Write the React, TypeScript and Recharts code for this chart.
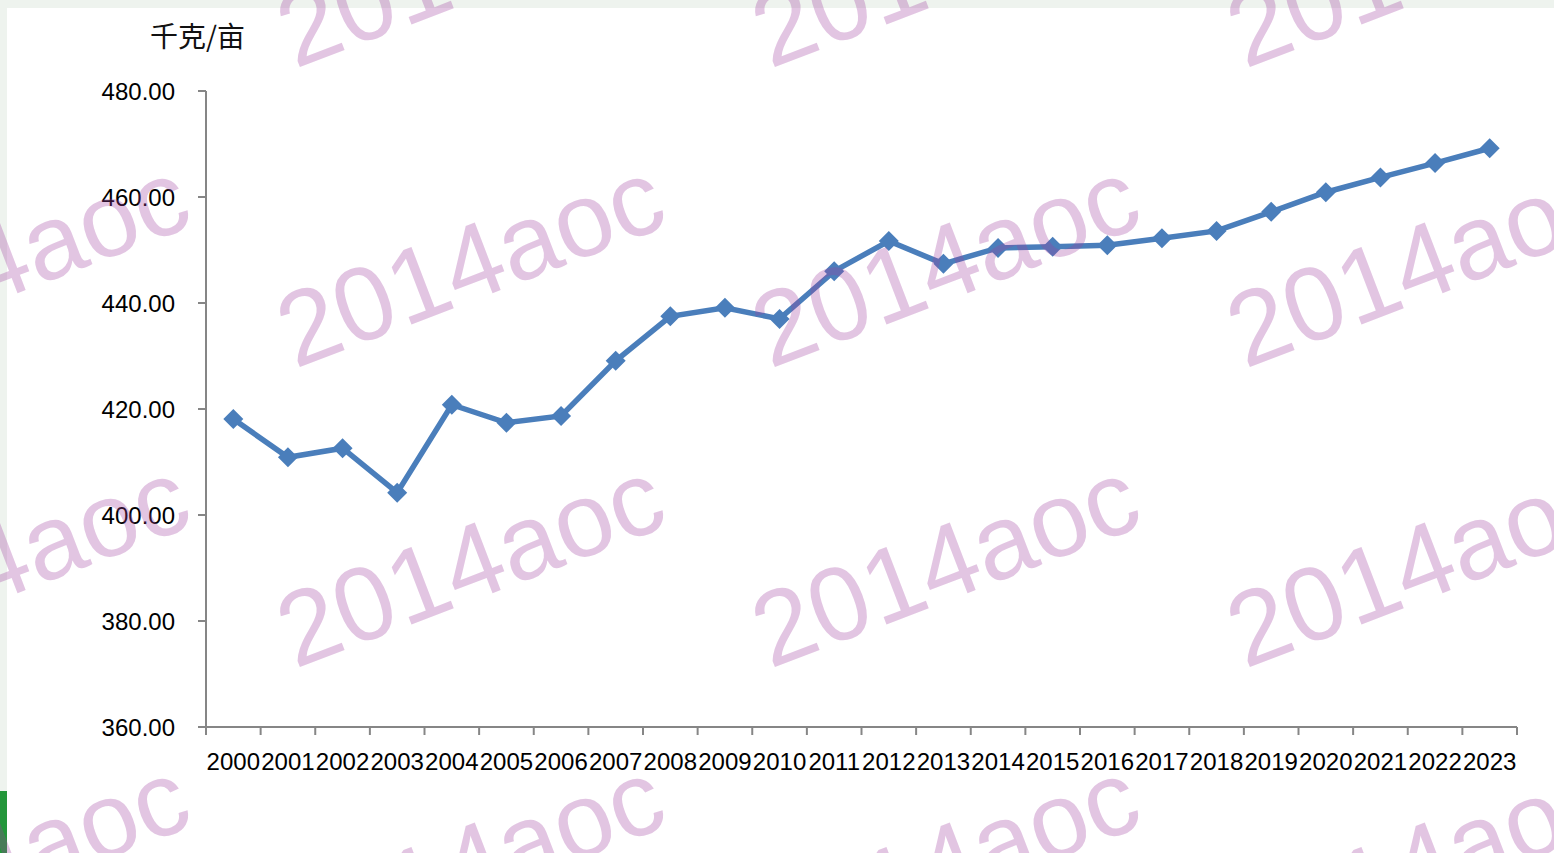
import React from 'react';
import { LineChart, Line, XAxis, YAxis } from 'recharts';

const years = [
  '2000', '2001', '2002', '2003', '2004', '2005', '2006', '2007', '2008', '2009', '2010', '2011',
  '2012', '2013', '2014', '2015', '2016', '2017', '2018', '2019', '2020', '2021', '2022', '2023',
];
const yields = [
  418.1, 410.9, 412.6, 404.2, 420.8, 417.4, 418.7, 429.1, 437.5, 439.1, 437.0, 446.0,
  451.7, 447.4, 450.4, 450.6, 450.9, 452.2, 453.6, 457.2, 460.9, 463.7, 466.4, 469.2,
];
const yTicks = [360, 380, 400, 420, 440, 460, 480];
const unitLabel = '千克/亩';
const watermarkText = '2014aoc';
const watermarkCols = [-180, 295, 770, 1245];
const watermarkRows = [69, 369, 669, 969];

const data = years.map((year, i) => ({ year, value: yields[i] }));

const LINE_COLOR = '#4a7ebb';
const AXIS_COLOR = '#868686';
const FONT = '"Liberation Sans", Arial, sans-serif';
const X_TICK_SIZE = 8;
const X_TICK_MARGIN = 18;

const Diamond = (props: any) => {
  const { cx, cy, index } = props;
  if (cx == null || cy == null) return <g key={`d-${index}`} />;
  const r = 10;
  return (
    <polygon
      key={`d-${index}`}
      points={`${cx},${cy - r} ${cx + r},${cy} ${cx},${cy + r} ${cx - r},${cy}`}
      fill={LINE_COLOR}
    />
  );
};

const XTick = (props: any) => {
  const { x, y, payload, index } = props;
  const half = payload && typeof payload.offset === 'number' ? payload.offset : 0;
  const axisY = y - X_TICK_SIZE - X_TICK_MARGIN;
  const isLast = index === years.length - 1;
  return (
    <g>
      <line x1={x - half} x2={x - half} y1={axisY} y2={axisY + X_TICK_SIZE} stroke={AXIS_COLOR} strokeWidth={2} />
      {isLast && (
        <line x1={x + half} x2={x + half} y1={axisY} y2={axisY + X_TICK_SIZE} stroke={AXIS_COLOR} strokeWidth={2} />
      )}
      <text
        x={x}
        y={y}
        dy="0.71em"
        textAnchor="middle"
        fill="#000000"
        fontSize={24}
        fontFamily={FONT}
      >
        {payload.value}
      </text>
    </g>
  );
};

export default function App() {
  return (
    <div
      style={{
        position: 'absolute',
        left: 0,
        top: 0,
        width: 1554,
        height: 853,
        background: '#eef3ee',
        overflow: 'hidden',
      }}
    >
      <div style={{ position: 'absolute', left: 7, top: 8, right: 0, bottom: 0, background: '#ffffff' }} />
      <div style={{ position: 'absolute', left: 0, top: 791, width: 7, height: 62, background: '#23963a' }} />
      <div style={{ position: 'absolute', left: 0, top: 0 }}>
        <LineChart width={1554} height={853} data={data} margin={{ top: 91, right: 37, bottom: 96, left: 146 }}>
          <XAxis
            dataKey="year"
            scale="band"
            height={30}
            interval={0}
            tickLine={false}
            axisLine={{ stroke: AXIS_COLOR, strokeWidth: 2 }}
            tickSize={X_TICK_SIZE}
            tickMargin={X_TICK_MARGIN}
            tick={<XTick />}
          />
          <YAxis
            width={60}
            domain={[360, 480]}
            ticks={yTicks}
            interval={0}
            tickSize={8}
            tickMargin={23}
            stroke={AXIS_COLOR}
            strokeWidth={2}
            tickFormatter={(v: number) => v.toFixed(2)}
            tick={{ fill: '#000000', fontSize: 24, fontFamily: FONT }}
          />
          <Line
            type="linear"
            dataKey="value"
            stroke={LINE_COLOR}
            strokeWidth={5.5}
            dot={Diamond}
            activeDot={false}
            isAnimationActive={false}
          />
        </LineChart>
      </div>
      <svg
        width={1554}
        height={853}
        style={{ position: 'absolute', left: 0, top: 0, pointerEvents: 'none' }}
      >
        <text
          x={150}
          y={47}
          fontSize={28}
          fill="#111111"
          fontFamily='"Noto Sans CJK SC", "Liberation Sans", sans-serif'
        >
          {unitLabel}
        </text>
        {watermarkRows.map((wy) =>
          watermarkCols.map((wx) => (
            <text
              key={`${wx}-${wy}`}
              x={wx}
              y={wy}
              fontSize={105}
              fontFamily={FONT}
              fill="#a040a0"
              fillOpacity={0.3}
              transform={`rotate(-21 ${wx} ${wy})`}
            >
              {watermarkText}
            </text>
          ))
        )}
      </svg>
    </div>
  );
}
